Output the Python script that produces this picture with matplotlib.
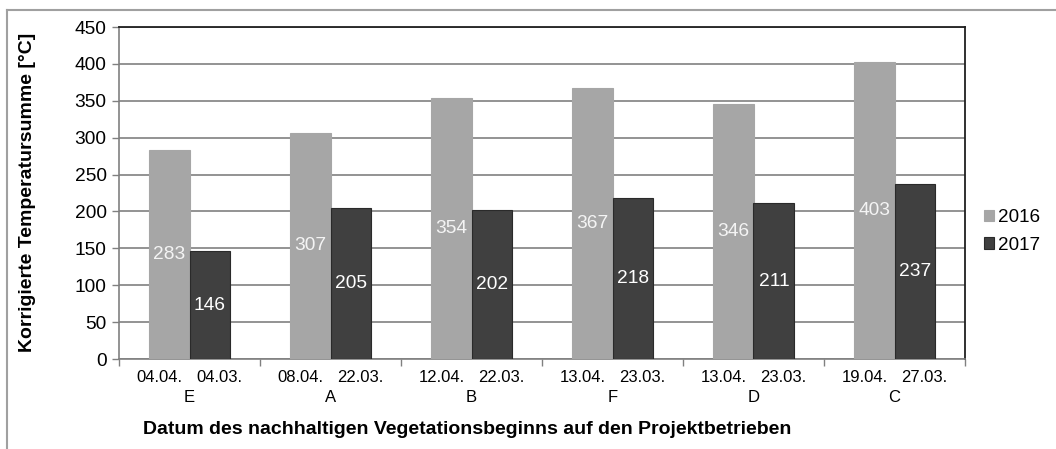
import matplotlib
matplotlib.use("Agg")
import matplotlib.pyplot as plt
import numpy as np
from matplotlib.lines import Line2D

plt.rcParams['font.family'] = ['Liberation Sans', 'DejaVu Sans']

betriebe = ["E", "A", "B", "F", "D", "C"]
dates_2016 = ["04.04.", "08.04.", "12.04.", "13.04.", "13.04.", "19.04."]
dates_2017 = ["04.03.", "22.03.", "22.03.", "23.03.", "23.03.", "27.03."]
values_2016 = [283, 307, 354, 367, 346, 403]
values_2017 = [146, 205, 202, 218, 211, 237]
series = ["2016", "2017"]
yticks = [0, 50, 100, 150, 200, 250, 300, 350, 400, 450]

W, H = 1056, 449
fig = plt.figure(figsize=(W / 100, H / 100), dpi=100)
ax = fig.add_axes([119 / W, (H - 359) / H, (965 - 119) / W, (359 - 27) / H])

x = np.arange(len(betriebe))
bw = 0.29
c16, c17 = "#a6a6a6", "#404040"
b1 = ax.bar(x - bw / 2, values_2016, bw, color=c16, edgecolor=c16, linewidth=0.8, label=series[0], zorder=3)
b2 = ax.bar(x + bw / 2, values_2017, bw, color=c17, edgecolor="#2a2a2a", linewidth=0.8, label=series[1], zorder=3)

for rect, v in zip(b1, values_2016):
    ax.text(rect.get_x() + rect.get_width() / 2, v / 2, str(v), ha="center", va="center",
            color="#f4f4f4", fontsize=13.8, zorder=4)
for rect, v in zip(b2, values_2017):
    ax.text(rect.get_x() + rect.get_width() / 2, v / 2, str(v), ha="center", va="center",
            color="white", fontsize=13.8, zorder=4)

ax.set_xlim(-0.5, len(betriebe) - 0.5)
ax.set_ylim(0, 450)
ax.set_yticks(yticks)
ax.set_yticklabels([str(t) for t in yticks], fontsize=13.8)
ax.yaxis.grid(True, color="#8a8a8a", linewidth=1.3, zorder=0)
ax.set_axisbelow(True)

# group boundary ticks
ax.set_xticks(np.arange(-0.5, len(betriebe)))
ax.set_xticklabels([])
ax.tick_params(axis="x", direction="out", length=5, color="#808080", width=1)
ax.tick_params(axis="y", direction="out", length=5, color="#808080", width=1, pad=4)

off = 0.213
for i in range(len(betriebe)):
    ax.text(i - off, -19 / 332, dates_2016[i], transform=ax.get_xaxis_transform(),
            ha="center", va="center", fontsize=12)
    ax.text(i + off, -19 / 332, dates_2017[i], transform=ax.get_xaxis_transform(),
            ha="center", va="center", fontsize=12)
    ax.text(i, -38 / 332, betriebe[i], transform=ax.get_xaxis_transform(),
            ha="center", va="center", fontsize=12)

ax.spines["left"].set_color("#808080")
ax.spines["left"].set_linewidth(1.2)
ax.spines["bottom"].set_color("#808080")
ax.spines["bottom"].set_linewidth(1.2)
ax.spines["top"].set_color("#202020")
ax.spines["top"].set_linewidth(1.3)
ax.spines["right"].set_color("#202020")
ax.spines["right"].set_linewidth(1.3)

fig.text(27.5 / W, 1 - 192 / H, "Korrigierte Temperatursumme [°C]", rotation=90,
         ha="center", va="center", fontsize=14, fontweight="bold")
fig.text(467.5 / W, 1 - 429 / H, "Datum des nachhaltigen Vegetationsbeginns auf den Projektbetrieben",
         ha="center", va="center", fontsize=14, fontweight="bold")

leg = fig.legend(handles=[b1, b2], labels=series, loc="center left",
                 bbox_to_anchor=(984 / W, 1 - 231.5 / H), frameon=False, fontsize=13.6,
                 handlelength=0.55, handleheight=0.55, handletextpad=0.2, labelspacing=0.55,
                 borderpad=0, borderaxespad=0)

# outer frame
fig.add_artist(Line2D([7 / W, 7 / W], [0, 1 - 10 / H], transform=fig.transFigure, color="#a0a0a0", linewidth=1.5))
fig.add_artist(Line2D([7 / W, 1], [1 - 10 / H, 1 - 10 / H], transform=fig.transFigure, color="#a0a0a0", linewidth=1.5))

fig.savefig("out.png", dpi=100)
